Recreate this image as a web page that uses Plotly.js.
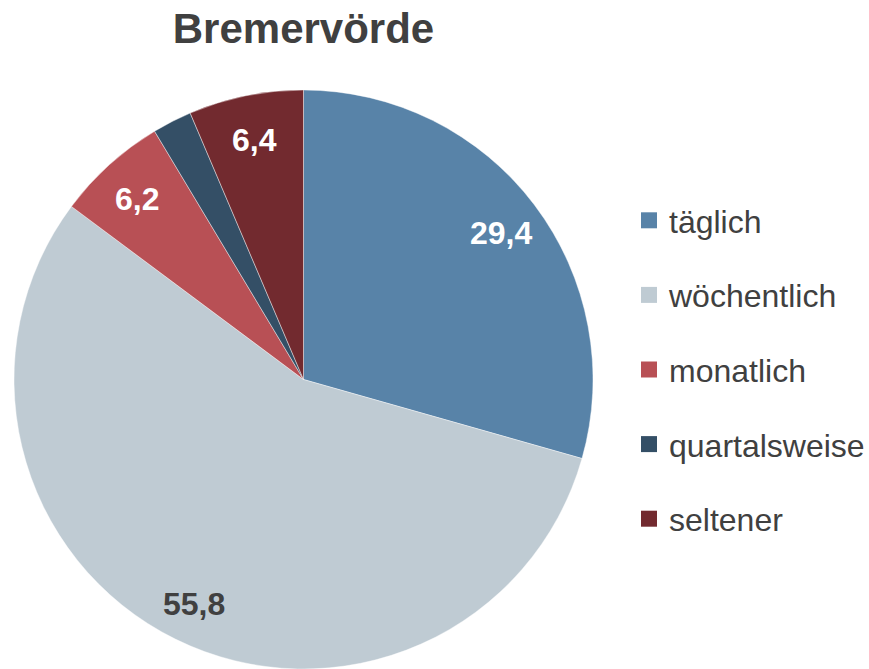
<!DOCTYPE html>
<html>
<head>
<meta charset="utf-8">
<script src="https://cdn.plot.ly/plotly-3.0.1.min.js"></script>
<style>html,body{margin:0;padding:0;background:#fff;}#chart{width:869px;height:669px;}</style>
</head>
<body>
<div id="chart"></div>
<script>
var categories = ['täglich', 'wöchentlich', 'monatlich', 'quartalsweise', 'seltener'];
var values = [29.4, 55.8, 6.2, 2.2, 6.4];
var labelTexts = ['29,4', '55,8', '6,2', '', '6,4'];
var colors = ['#5883a8', '#bfcbd3', '#b85055', '#344f66', '#722a2f'];
var labelColors = ['#ffffff', '#404040', '#ffffff', '#ffffff', '#ffffff'];

var W = 869, H = 669;
var cx = 303.5, cy = 379.5, R = 289.5;

var pie = {
  type: 'pie',
  labels: categories,
  values: values,
  sort: false,
  direction: 'clockwise',
  rotation: 0,
  textinfo: 'none',
  hoverinfo: 'label+value',
  showlegend: false,
  marker: {colors: colors, line: {color: 'rgba(255,255,255,0.6)', width: 0.7}},
  domain: {x: [(cx - R) / W, (cx + R) / W], y: [0, 1 - (cy - R) / H]}
};

var traces = [pie];
categories.forEach(function (c, i) {
  traces.push({
    type: 'scatter', mode: 'markers', x: [null], y: [null],
    name: c, legendgroup: 'g' + i,
    marker: {symbol: 'square', size: 17, color: colors[i]},
    hoverinfo: 'skip', showlegend: true
  });
});

// label positions derived from cumulative values
var total = values.reduce(function (a, b) { return a + b; }, 0);
var annotations = [];
var cum = 0;
values.forEach(function (v, i) {
  var mid = (cum + v / 2) / total * 2 * Math.PI;
  cum += v;
  if (!labelTexts[i]) return;
  var rf = 0.855 * R;
  var px = cx + rf * Math.sin(mid);
  var py = cy - rf * Math.cos(mid) + 3;
  annotations.push({
    xref: 'paper', yref: 'paper', x: px / W, y: 1 - py / H,
    xanchor: 'center', yanchor: 'middle', showarrow: false,
    text: '<b>' + labelTexts[i] + '</b>',
    font: {family: 'Liberation Sans, Arial, sans-serif', size: 32, color: labelColors[i]}
  });
});

var layout = {
  width: W, height: H,
  margin: {l: 0, r: 0, t: 0, b: 0, autoexpand: false},
  paper_bgcolor: '#ffffff', plot_bgcolor: '#ffffff',
  title: {
    text: '<b>Bremervörde</b>',
    font: {family: 'Liberation Sans, Arial, sans-serif', size: 42, color: '#404040'},
    x: cx / W, xref: 'paper', xanchor: 'center',
    y: 1 - 28 / H, yref: 'container', yanchor: 'middle'
  },
  xaxis: {visible: false}, yaxis: {visible: false},
  showlegend: true,
  legend: {
    x: 629 / W, y: 1 - 193 / H, xanchor: 'left', yanchor: 'top',
    xref: 'paper', yref: 'paper',
    traceorder: 'grouped', tracegroupgap: 30, itemwidth: 30,
    font: {family: 'Liberation Sans, Arial, sans-serif', size: 32, color: '#404040'},
    bgcolor: 'rgba(0,0,0,0)', itemclick: false, itemdoubleclick: false
  },
  annotations: annotations
};

Plotly.newPlot('chart', traces, layout, {displayModeBar: false, staticPlot: true});
</script>
</body>
</html>
